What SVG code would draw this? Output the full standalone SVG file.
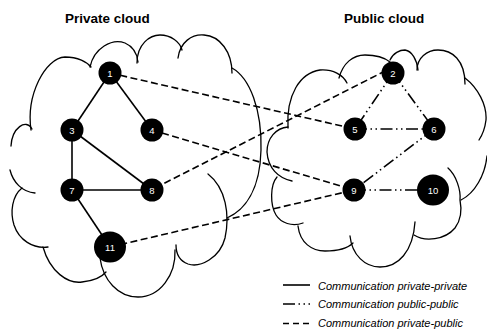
<svg xmlns="http://www.w3.org/2000/svg" width="487" height="329" viewBox="0 0 487 329">
<style>
.cloud{fill:none;stroke:#000;stroke-width:1.3;stroke-linecap:round}
.pp{stroke:#000;stroke-width:1.6;fill:none}
.pub{stroke:#000;stroke-width:1.6;fill:none;stroke-dasharray:12 3.5 1.5 3.5 1.5 3.5}
.pr{stroke:#000;stroke-width:1.6;fill:none;stroke-dasharray:7 3.5}
.node{fill:#000}
.lbl{fill:#fff;font-family:"Liberation Sans",Arial,sans-serif;font-size:9.5px;text-anchor:middle}
.title{font-family:"Liberation Sans",Arial,sans-serif;font-size:13.5px;font-weight:bold;fill:#000}
.leg{font-family:"Liberation Sans",Arial,sans-serif;font-size:11px;font-style:italic;fill:#000}
</style>
<g id="private-cloud" class="cloud">
<path d="M11,146 C12,128 26,118 32,129"/>
<path d="M31,130 C26,95 45,58 65,57 C78,57 87,62 91,67"/>
<path d="M90,67 C94,48 112,38 125,43 C132,46 137,53 138,62"/>
<path d="M137,63 C137,44 150,35 160,35 C171,35 180,42 182,50"/>
<path d="M178,58 C180,42 192,34 204,35 C220,36 232,52 232,73"/>
<path d="M232,68 C250,78 262,110 261,150 C260,190 245,210 227,218"/>
<path d="M208,174 C226,188 230,215 225,238 C220,258 200,268 188,264 C180,261 176,255 176,245"/>
<path d="M175,250 C176,275 160,297 138,297 C118,297 103,280 100,258"/>
<path d="M43,247 C50,272 68,284 82,282 C92,281 101,278 106,272"/>
<path d="M22,188 C12,196 10,212 14,225 C19,240 33,249 48,247"/>
<path d="M10,170 C13,182 22,192 35,193"/>
</g>
<g id="public-cloud" class="cloud">
<path d="M288,128 C286,95 300,73 320,70 C333,69 343,75 347,83"/>
<path d="M288,127 C276,128 267,138 267,152 C268,168 278,178 292,181"/>
<path d="M277,177 C270,185 270,205 276,215 C281,223 292,227 303,223"/>
<path d="M298,226 C300,243 312,251 325,251 C338,251 348,248 353,243"/>
<path d="M350,236 C352,255 365,267 380,267 C398,267 413,252 415,222"/>
<path d="M414,235 C425,242 445,240 455,228 C461,220 462,210 460,200 C461,190 456,175 448,168"/>
<path d="M487,156 C485,175 475,193 461,200"/>
<path d="M465,78 C478,88 487,105 486,120 C485,128 483,134 479,140"/>
<path d="M417,70 C417,58 427,50 438,50 C452,50 465,60 465,84"/>
<path d="M390,60 C393,53 400,50 405,50 C412,51 417,60 418,70"/>
<path d="M339,78 C343,63 353,55 365,55 C376,55 385,58 390,62"/>
</g>
<g id="connectors">
<line class="pp" x1="110" y1="73" x2="72" y2="130"/>
<line class="pp" x1="110" y1="73" x2="152" y2="130"/>
<line class="pp" x1="72" y1="130" x2="72" y2="190"/>
<line class="pp" x1="72" y1="130" x2="152" y2="190"/>
<line class="pp" x1="72" y1="190" x2="152" y2="190"/>
<line class="pp" x1="72" y1="190" x2="110" y2="247"/>
<line class="pub" x1="393" y1="73" x2="355" y2="129"/>
<line class="pub" x1="393" y1="73" x2="434" y2="129"/>
<line class="pub" x1="355" y1="129" x2="434" y2="129"/>
<line class="pub" x1="434" y1="129" x2="354" y2="190"/>
<line class="pub" x1="354" y1="190" x2="433" y2="190"/>
<line class="pr" x1="110" y1="73" x2="355" y2="129"/>
<line class="pr" x1="152" y1="130" x2="354" y2="190"/>
<line class="pr" x1="155" y1="188" x2="391" y2="68"/>
<line class="pr" x1="110" y1="247" x2="354" y2="190"/>
</g>
<g id="n1"><circle class="node" cx="110" cy="73" r="11.5"/><text class="lbl" x="110" y="76.5">1</text></g>
<g id="n2"><circle class="node" cx="393" cy="73" r="11.5"/><text class="lbl" x="393" y="76.5">2</text></g>
<g id="n3"><circle class="node" cx="72" cy="130" r="11.5"/><text class="lbl" x="72" y="133.5">3</text></g>
<g id="n4"><circle class="node" cx="152" cy="130" r="11.5"/><text class="lbl" x="152" y="133.5">4</text></g>
<g id="n5"><circle class="node" cx="355" cy="129" r="11.5"/><text class="lbl" x="355" y="132.5">5</text></g>
<g id="n6"><circle class="node" cx="434" cy="129" r="11.5"/><text class="lbl" x="434" y="132.5">6</text></g>
<g id="n7"><circle class="node" cx="72" cy="190" r="11.5"/><text class="lbl" x="72" y="193.5">7</text></g>
<g id="n8"><circle class="node" cx="152" cy="190" r="11.5"/><text class="lbl" x="152" y="193.5">8</text></g>
<g id="n9"><circle class="node" cx="354" cy="190" r="11.5"/><text class="lbl" x="354" y="193.5">9</text></g>
<g id="n10"><ellipse class="node" cx="433" cy="190" rx="16" ry="15.5"/><text class="lbl" x="433" y="193.5">10</text></g>
<g id="n11"><ellipse class="node" cx="110" cy="247" rx="16" ry="15.5"/><text class="lbl" x="110" y="250.5">11</text></g>
<g id="titles">
<text class="title" x="65" y="23">Private cloud</text>
<text class="title" x="344" y="23">Public cloud</text>
</g>
<g id="legend">
<line class="pp" x1="283" y1="285" x2="310" y2="285"/>
<line class="pub" x1="283" y1="304" x2="310" y2="304"/>
<line class="pr" x1="283" y1="323.5" x2="310" y2="323.5" style="stroke-dasharray:6 4"/>
<text class="leg" x="318" y="289.5">Communication private-private</text>
<text class="leg" x="318" y="308">Communication public-public</text>
<text class="leg" x="318" y="327">Communication private-public</text>
</g>
</svg>
